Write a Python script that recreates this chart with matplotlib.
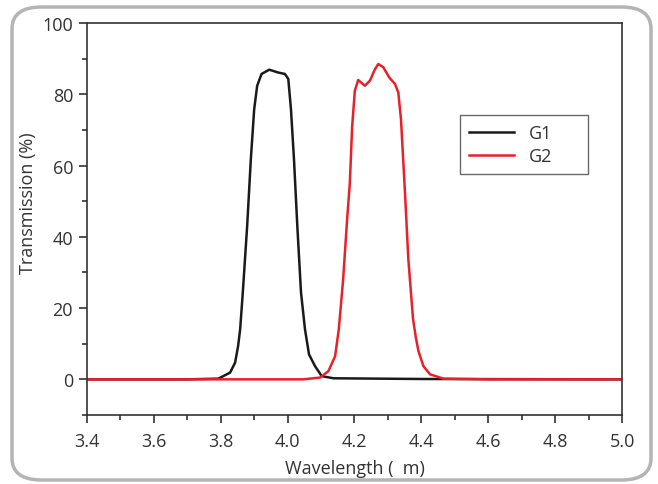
import numpy as np
import matplotlib
matplotlib.use("Agg")
import matplotlib.pyplot as plt
from matplotlib.patches import FancyBboxPatch
from matplotlib.ticker import MultipleLocator, FormatStrFormatter

# transmission curves
g1_wl = [3.40, 3.70, 3.793, 3.828, 3.843, 3.852, 3.858, 3.866, 3.879, 3.890,
         3.900, 3.909, 3.922, 3.945, 3.972, 3.992, 4.002, 4.010, 4.019, 4.029,
         4.040, 4.052, 4.064, 4.082, 4.102, 4.137, 4.40, 5.00]
g1_tr = [0.0, 0.0, 0.2, 1.9, 4.7, 9.4, 14.0, 24.4, 43.0, 61.8,
         75.8, 82.4, 85.7, 86.9, 86.1, 85.7, 84.3, 75.8, 61.8, 43.0,
         24.4, 14.0, 7.0, 3.7, 0.9, 0.3, 0.1, 0.0]

g2_wl = [3.40, 3.90, 4.046, 4.097, 4.122, 4.142, 4.153, 4.166, 4.178, 4.186,
         4.193, 4.201, 4.211, 4.231, 4.246, 4.261, 4.271, 4.286, 4.304, 4.321,
         4.331, 4.339, 4.351, 4.361, 4.375, 4.383, 4.391, 4.406, 4.426, 4.466,
         4.60, 5.00]
g2_tr = [0.0, 0.0, 0.0, 0.5, 2.3, 6.5, 14.0, 28.0, 45.0, 55.0,
         71.0, 81.0, 84.0, 82.4, 83.8, 87.0, 88.5, 87.6, 84.7, 82.9,
         80.5, 73.0, 52.4, 33.7, 17.0, 12.0, 8.0, 3.7, 1.4, 0.2,
         0.0, 0.0]

plt.rcParams['font.family'] = ['Open Sans', 'DejaVu Sans']

fig = plt.figure(figsize=(6.58, 4.85), dpi=100)
ax = fig.add_axes([0.1322, 0.1423, 0.8131, 0.8082])

ax.plot(g1_wl, g1_tr, color='#1a1a1a', lw=1.8, label='G1')
ax.plot(g2_wl, g2_tr, color='#e8202a', lw=1.8, label='G2')

ax.set_xlim(3.4, 5.0)
ax.set_ylim(-10, 100)
ax.xaxis.set_major_locator(MultipleLocator(0.2))
ax.xaxis.set_minor_locator(MultipleLocator(0.1))
ax.yaxis.set_major_locator(MultipleLocator(20))
ax.yaxis.set_minor_locator(MultipleLocator(10))
ax.xaxis.set_major_formatter(FormatStrFormatter('%.1f'))

txt = '#333333'
for s in ax.spines.values():
    s.set_color('#333333')
    s.set_linewidth(1.2)
ax.tick_params(which='major', direction='out', length=6, width=1.2,
               color='#333333', labelsize=13, labelcolor=txt, pad=4)
ax.tick_params(axis='x', which='major', pad=6)
ax.tick_params(which='minor', direction='out', length=3.5, width=1.2, color='#333333')

ax.set_xlabel('Wavelength (  m)', fontsize=13, color=txt, labelpad=7)
ax.set_ylabel('Transmission (%)', fontsize=13, color=txt)
# the label sits centred on the 0-100 range, not on the whole axis
ax.yaxis.set_label_coords(-0.094, 0.543)

leg = ax.legend(loc='upper left', bbox_to_anchor=(0.697, 0.5, 0.239, 0.265),
                mode='expand', borderaxespad=0, fontsize=13,
                frameon=True, fancybox=False, handlelength=2.5,
                borderpad=0.5, labelspacing=0.28, handletextpad=0.8)
leg.get_frame().set_edgecolor('#444444')
leg.get_frame().set_linewidth(1.0)
for t in leg.get_texts():
    t.set_color(txt)

# rounded grey frame round the whole figure
W, H = 658, 485
box = FancyBboxPatch((12 / W, 4 / H), (651 - 12) / W, (479 - 6) / H,
                     boxstyle='round,pad=0,rounding_size=0.045',
                     transform=fig.transFigure, fill=False,
                     edgecolor='#b4b4b4', linewidth=2.5, zorder=-1)
fig.patches.append(box)

fig.savefig('out.png', dpi=100)
